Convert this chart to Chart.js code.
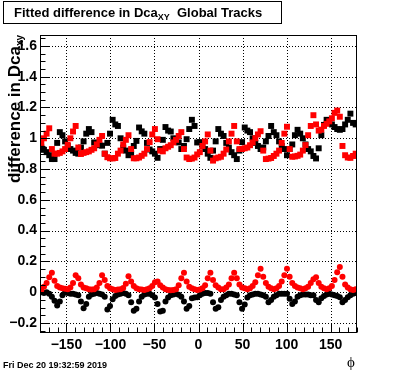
<!DOCTYPE html>
<html><head><meta charset="utf-8">
<script src="https://cdn.jsdelivr.net/npm/chart.js@4/dist/chart.umd.min.js"></script>
<style>html,body{margin:0;padding:0;background:#fff;overflow:hidden}#wrap{width:396px;height:372px}</style>
</head><body><div id="wrap"><canvas id="c" width="396" height="372"></canvas></div>
<script>
// phi bin centres (degrees)
const phiBins = [-178.5,-175.5,-172.5,-169.5,-166.5,-163.5,-160.5,-157.5,-154.5,-151.5,
-148.5,-145.5,-142.5,-139.5,-136.5,-133.5,-130.5,-127.5,-124.5,-121.5,
-118.5,-115.5,-112.5,-109.5,-106.5,-103.5,-100.5,-97.5,-94.5,-91.5,
-88.5,-85.5,-82.5,-79.5,-76.5,-73.5,-70.5,-67.5,-64.5,-61.5,
-58.5,-55.5,-52.5,-49.5,-46.5,-43.5,-40.5,-37.5,-34.5,-31.5,
-28.5,-25.5,-22.5,-19.5,-16.5,-13.5,-10.5,-7.5,-4.5,-1.5,
1.5,4.5,7.5,10.5,13.5,16.5,19.5,22.5,25.5,28.5,
31.5,34.5,37.5,40.5,43.5,46.5,49.5,52.5,55.5,58.5,
61.5,64.5,67.5,70.5,73.5,76.5,79.5,82.5,85.5,88.5,
91.5,94.5,97.5,100.5,103.5,106.5,109.5,112.5,115.5,118.5,
121.5,124.5,127.5,130.5,133.5,136.5,139.5,142.5,145.5,148.5,
151.5,154.5,157.5,160.5,163.5,166.5,169.5,172.5,175.5,178.5];

// upper band, red squares
const redSquares = [0.97,1.00,1.03,1.065,0.93,0.90,0.90,0.905,0.915,0.93,
0.958,1.00,1.044,1.08,0.94,0.898,0.905,0.91,0.915,0.925,
0.935,0.96,0.99,1.015,0.90,0.877,0.87,0.869,0.872,0.90,
0.92,0.96,0.99,1.02,0.93,0.87,0.87,0.875,0.886,0.90,
0.93,0.975,1.025,1.06,0.994,0.92,0.915,0.935,0.945,0.955,
0.973,0.99,1.015,1.04,0.93,0.875,0.865,0.868,0.875,0.895,
0.91,0.95,0.98,1.025,0.92,0.855,0.87,0.875,0.88,0.90,
0.927,0.98,1.03,1.08,0.98,0.93,0.93,0.935,0.94,0.955,
0.973,1.00,1.025,1.046,0.92,0.865,0.868,0.872,0.885,0.90,
0.92,0.97,1.03,1.075,0.93,0.88,0.882,0.886,0.894,0.92,
0.956,1.02,1.08,1.15,1.09,1.05,1.056,1.08,1.094,1.11,
1.13,1.165,1.18,1.14,0.95,0.89,0.875,0.873,0.885,0.90];

// upper band, black squares
const blackSquares = [0.94,0.925,0.91,0.89,0.865,0.865,0.97,1.04,1.02,0.98,
0.95,0.93,0.92,0.905,0.90,0.94,0.98,1.03,1.06,1.04,
0.973,0.96,0.955,0.952,0.90,0.97,1.03,1.12,1.09,1.08,
1.00,0.94,0.92,0.89,0.90,0.95,0.983,1.07,1.045,1.03,
0.97,0.927,0.915,0.90,0.873,0.93,0.99,1.073,1.05,1.044,
1.00,0.98,0.973,0.93,0.95,0.994,1.06,1.12,1.08,0.973,
0.975,0.95,0.93,0.90,0.873,0.92,0.98,1.06,1.03,1.015,
0.97,0.94,0.91,0.89,0.865,0.92,0.975,1.07,1.05,1.04,
1.00,0.97,0.95,0.93,0.94,0.98,1.015,1.08,1.04,1.02,
0.98,0.95,0.93,0.89,0.93,0.96,1.02,1.055,1.03,1.00,
0.96,0.93,0.915,0.885,0.869,0.935,1.02,1.087,1.12,1.10,
1.09,1.073,1.06,1.055,1.06,1.09,1.12,1.16,1.10,1.09];

// lower band, red circles
const redCircles = [0.015,0.035,0.06,0.098,0.126,0.075,0.04,0.03,0.025,0.022,
0.02,0.03,0.06,0.11,0.09,0.05,0.03,0.025,0.02,0.018,
0.02,0.03,0.06,0.11,0.08,0.04,0.025,0.02,0.015,0.018,
0.02,0.028,0.055,0.104,0.07,0.04,0.025,0.02,0.018,0.015,
0.02,0.025,0.04,0.065,0.07,0.045,0.03,0.02,0.015,0.012,
0.015,0.02,0.045,0.09,0.126,0.07,0.035,0.025,0.02,0.015,
0.018,0.025,0.045,0.09,0.126,0.08,0.045,0.03,0.02,0.02,
0.03,0.05,0.09,0.126,0.09,0.05,0.03,0.025,0.02,0.025,
0.04,0.065,0.11,0.152,0.10,0.06,0.035,0.025,0.02,0.025,
0.04,0.07,0.11,0.152,0.10,0.06,0.04,0.03,0.025,0.02,
0.025,0.035,0.06,0.085,0.098,0.06,0.035,0.025,0.02,0.025,
0.04,0.08,0.13,0.163,0.10,0.05,0.03,0.02,0.015,0.02];

// lower band, black circles
const blackCircles = [0.0,-0.005,0.0,-0.01,-0.03,-0.055,-0.087,-0.06,-0.02,0.0,
-0.005,-0.01,-0.01,-0.015,-0.02,-0.06,-0.104,-0.076,-0.03,-0.015,
-0.01,-0.005,-0.01,-0.015,-0.03,-0.113,-0.09,-0.045,-0.025,-0.015,
-0.01,-0.005,-0.01,-0.02,-0.065,-0.12,-0.108,-0.06,-0.03,-0.015,
-0.01,-0.01,-0.02,-0.035,-0.076,-0.126,-0.12,-0.06,-0.035,-0.02,
-0.015,-0.01,-0.017,-0.03,-0.06,-0.108,-0.09,-0.04,-0.035,-0.033,
-0.02,-0.01,-0.005,-0.005,-0.01,-0.065,-0.108,-0.098,-0.05,-0.03,
-0.02,-0.01,-0.01,-0.015,-0.02,-0.065,-0.108,-0.08,-0.035,-0.02,
-0.015,-0.01,-0.01,-0.015,-0.02,-0.03,-0.065,-0.05,-0.03,-0.02,
-0.01,-0.01,-0.01,-0.01,-0.043,-0.076,-0.06,-0.03,-0.02,-0.015,
-0.015,-0.015,-0.02,-0.02,-0.05,-0.065,-0.04,-0.025,-0.015,-0.01,
-0.015,-0.02,-0.025,-0.033,-0.065,-0.05,-0.033,-0.02,-0.01,-0.005];

const xTicks = [-150,-100,-50,0,50,100,150];
const xTickLabels = ['\u2212150','\u2212100','\u221250','0','50','100','150'];
const yTicks = [-0.2,0,0.2,0.4,0.6,0.8,1.0,1.2,1.4,1.6];
const yTickLabels = ['\u22120.2','0','0.2','0.4','0.6','0.8','1','1.2','1.4','1.6'];
const titleMain = 'Fitted difference in Dca';
const titleSub = 'XY';
const titleTail = '  Global Tracks';
const yTitleMain = 'difference in Dca';
const yTitleSub = 'xy';
const xTitle = '\u03D5';
const dateText = 'Fri Dec 20 19:32:59 2019';

const FONT = '"Liberation Sans", Arial, Helvetica, sans-serif';

function pts(vals){ return phiBins.map((p,i)=>({x:p,y:vals[i]})); }

const rootPlugin = {
  id:'rootPlugin',
  beforeDatasetsDraw(chart){
    const {ctx, chartArea:a, scales:{x,y}} = chart;
    ctx.save();
    ctx.strokeStyle='#000'; ctx.lineWidth=1; ctx.setLineDash([1,2]);
    xTicks.forEach(v=>{const px=Math.round(x.getPixelForValue(v))+0.5;
      ctx.beginPath(); ctx.moveTo(px,a.top); ctx.lineTo(px,a.bottom); ctx.stroke();});
    yTicks.forEach(v=>{const py=Math.round(y.getPixelForValue(v))+0.5;
      ctx.beginPath(); ctx.moveTo(a.left,py); ctx.lineTo(a.right,py); ctx.stroke();});
    ctx.restore();
  },
  afterDraw(chart){
    const {ctx, chartArea:a, scales:{x,y}} = chart;
    ctx.save();
    ctx.strokeStyle='#000'; ctx.lineWidth=1; ctx.setLineDash([]);
    const L=Math.round(a.left)+0.5, R=Math.round(a.right)-0.5, T=Math.round(a.top)+0.5, B=Math.round(a.bottom)-0.5;
    ctx.strokeRect(L,T,R-L,B-T);
    // y ticks (inside, left)
    for(let v=-0.25; v<=1.66; v+=0.05){
      const vv=Math.round(v*100)/100;
      const py=Math.round(y.getPixelForValue(vv))+0.5;
      if(py<a.top||py>a.bottom) continue;
      const major = Math.abs(Math.round(vv*5)-vv*5)<1e-6;
      ctx.beginPath(); ctx.moveTo(L,py); ctx.lineTo(L+(major?9:5),py); ctx.stroke();
    }
    // x ticks (inside, bottom)
    for(let v=-180; v<=180; v+=10){
      const px=Math.round(x.getPixelForValue(v))+0.5;
      const major = v%50===0;
      ctx.beginPath(); ctx.moveTo(px,B); ctx.lineTo(px,B-(major?9:5)); ctx.stroke();
    }
    // title box
    ctx.fillStyle='#fff';
    ctx.fillRect(3,1,279,23);
    ctx.strokeRect(3.5,1.5,278,22);
    ctx.fillStyle='#000';
    ctx.textBaseline='alphabetic'; ctx.textAlign='left';
    ctx.font='bold 13px '+FONT;
    let tx=14; const ty=17;
    ctx.fillText(titleMain,tx,ty); tx+=ctx.measureText(titleMain).width;
    ctx.font='bold 9px '+FONT;
    ctx.fillText(titleSub,tx,ty+3); tx+=ctx.measureText(titleSub).width;
    ctx.font='bold 13px '+FONT;
    ctx.fillText(titleTail,tx,ty);
    // y title rotated
    ctx.save();
    ctx.translate(20,35); ctx.rotate(-Math.PI/2);
    ctx.font='bold 10px '+FONT;
    const wsub=ctx.measureText(yTitleSub).width;
    ctx.font='bold 17px '+FONT;
    const wmain=ctx.measureText(yTitleMain).width;
    ctx.textAlign='left';
    ctx.fillText(yTitleMain,-(wmain+wsub),0);
    ctx.font='bold 10px '+FONT;
    ctx.fillText(yTitleSub,-wsub,3);
    ctx.restore();
    // x title
    ctx.font='15px "Liberation Serif", "DejaVu Serif", serif';
    ctx.textAlign='center';
    ctx.fillText(xTitle,351,367);
    // date
    ctx.font='bold 9px '+FONT;
    ctx.textAlign='left';
    ctx.fillText(dateText,3,368);
    ctx.restore();
  }
};

new Chart(document.getElementById('c'),{
  type:'scatter',
  data:{datasets:[
    {label:'red squares',data:pts(redSquares),pointStyle:'rect',pointRadius:4.2,backgroundColor:'#ff0000',borderWidth:0},
    {label:'red circles',data:pts(redCircles),pointStyle:'circle',pointRadius:3,backgroundColor:'#ff0000',borderWidth:0},
    {label:'black squares',data:pts(blackSquares),pointStyle:'rect',pointRadius:4.2,backgroundColor:'#000000',borderWidth:0},
    {label:'black circles',data:pts(blackCircles),pointStyle:'circle',pointRadius:3,backgroundColor:'#000000',borderWidth:0}
  ]},
  options:{
    responsive:false, animation:false, devicePixelRatio:1,
    layout:{padding:{left:0,top:35,right:39,bottom:0}},
    plugins:{legend:{display:false},tooltip:{enabled:false},title:{display:false}},
    elements:{point:{hoverRadius:0}},
    scales:{
      x:{type:'linear',min:-180,max:180,
        grid:{display:false,drawTicks:false},border:{display:false},
        afterBuildTicks(s){s.ticks=xTicks.map(v=>({value:v}));},
        afterFit(s){s.height=39;},
        ticks:{padding:4,color:'#000',font:{family:FONT,size:14,weight:'bold'},maxRotation:0,autoSkip:false,
          callback(v,i){return xTickLabels[i];}}},
      y:{type:'linear',min:-0.265,max:1.671,
        grid:{display:false,drawTicks:false},border:{display:false},
        afterBuildTicks(s){s.ticks=yTicks.map(v=>({value:v}));},
        afterFit(s){s.width=40;},
        ticks:{padding:3,color:'#000',font:{family:FONT,size:14,weight:'bold'},autoSkip:false,
          callback(v,i){return yTickLabels[i];}}}
    }
  },
  plugins:[rootPlugin]
});
</script></body></html>
